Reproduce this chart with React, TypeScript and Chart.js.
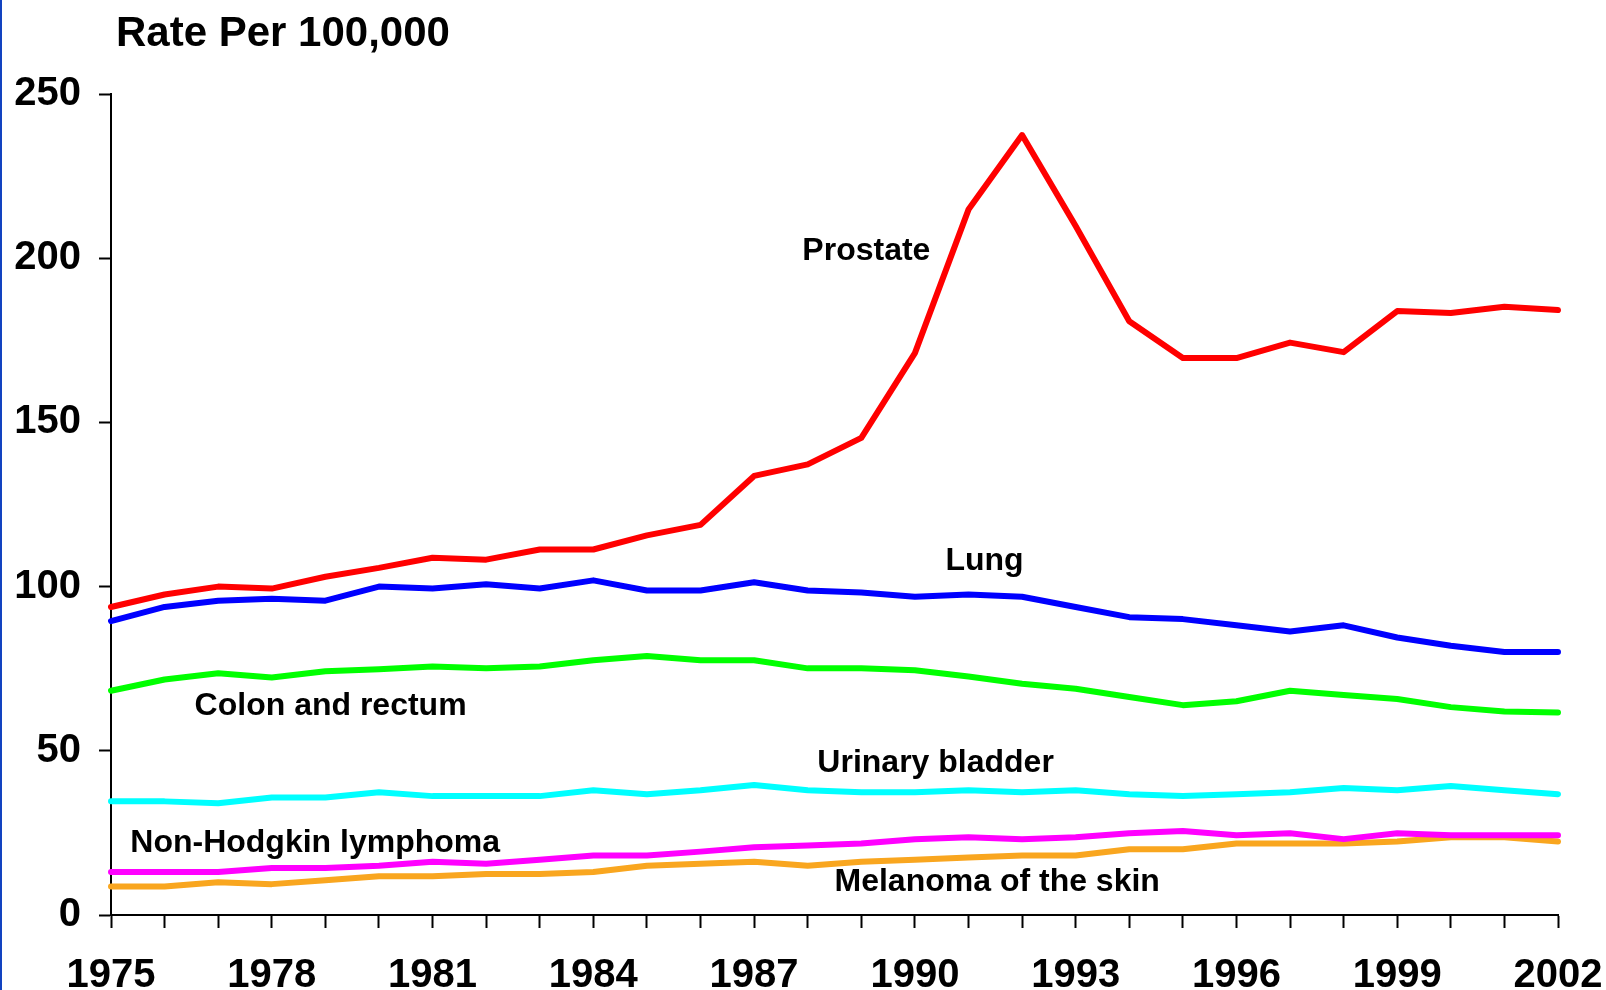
import React, { useEffect, useRef } from "react";
import { Chart, registerables } from "chart.js";

Chart.register(...registerables);

const years: string[] = [
  "1975", "1976", "1977", "1978", "1979", "1980", "1981", "1982", "1983", "1984",
  "1985", "1986", "1987", "1988", "1989", "1990", "1991", "1992", "1993", "1994",
  "1995", "1996", "1997", "1998", "1999", "2000", "2001", "2002",
];

const prostate: number[] = [
  93.8, 97.6, 100, 99.4, 103, 105.7, 108.8, 108.2, 111.3, 111.3,
  115.6, 118.8, 133.7, 137.2, 145.3, 171.1, 214.8, 237.5, 209.8, 180.8,
  169.6, 169.6, 174.3, 171.4, 183.9, 183.3, 185.2, 184.2,
];
const lung: number[] = [
  89.5, 93.8, 95.7, 96.3, 95.7, 100, 99.4, 100.7, 99.4, 101.9,
  98.8, 98.8, 101.3, 98.8, 98.2, 96.9, 97.6, 96.9, 93.8, 90.7,
  90.1, 88.2, 86.3, 88.2, 84.5, 82, 80.1, 80.1,
];
const colon: number[] = [
  68.3, 71.7, 73.6, 72.3, 74.2, 74.8, 75.7, 75.1, 75.7, 77.6,
  78.9, 77.6, 77.6, 75.1, 75.1, 74.5, 72.6, 70.4, 68.9, 66.4,
  63.9, 65.1, 68.3, 67, 65.8, 63.3, 62, 61.7,
];
const bladder: number[] = [
  34.6, 34.6, 34, 35.8, 35.8, 37.4, 36.2, 36.2, 36.2, 38,
  36.8, 38, 39.6, 38, 37.4, 37.4, 38, 37.4, 38, 36.8,
  36.2, 36.8, 37.4, 38.7, 38, 39.3, 38, 36.8,
];
const nhl: number[] = [
  13.1, 13.1, 13.1, 14.3, 14.3, 15, 16.2, 15.6, 16.8, 18.1,
  18.1, 19.3, 20.6, 21.2, 21.8, 23.1, 23.7, 23.1, 23.7, 24.9,
  25.6, 24.3, 24.9, 23.1, 24.9, 24.3, 24.3, 24.3,
];
const melanoma: number[] = [
  8.7, 8.7, 10, 9.4, 10.6, 11.8, 11.8, 12.5, 12.5, 13.1,
  15, 15.6, 16.2, 15, 16.2, 16.8, 17.5, 18.1, 18.1, 20,
  20, 21.8, 21.8, 21.8, 22.4, 23.7, 23.7, 22.4,
];

const seriesNames: string[] = [
  "Prostate", "Lung", "Colon and rectum", "Urinary bladder",
  "Non-Hodgkin lymphoma", "Melanoma of the skin",
];
const seriesColors: string[] = ["#ff0000", "#0000ff", "#00ff00", "#00ffff", "#ff00ff", "#f9a61f"];

// label anchors in data space: [category index, value]
const labelAnchors: [number, number][] = [
  [12.9, 202.0],
  [15.57, 107.7],
  [1.56, 63.6],
  [13.18, 46.2],
  [0.36, 21.9],
  [13.5, 10.1],
];

const FONT = "'Liberation Sans', Arial, Helvetica, sans-serif";

const labelPlugin = {
  id: "seriesLabels",
  afterDatasetsDraw(chart: any) {
    const { ctx, scales } = chart;
    ctx.save();
    ctx.font = `bold 32px ${FONT}`;
    ctx.fillStyle = "#000";
    ctx.textAlign = "left";
    ctx.textBaseline = "middle";
    seriesNames.forEach((name, i) => {
      const [xi, v] = labelAnchors[i];
      ctx.fillText(name, scales.x.getPixelForValue(xi), scales.y.getPixelForValue(v));
    });
    ctx.restore();
  },
};

const titlePlugin = {
  id: "axisTitle",
  afterDraw(chart: any) {
    const { ctx } = chart;
    ctx.save();
    ctx.font = `bold 42px ${FONT}`;
    ctx.fillStyle = "#000";
    ctx.textAlign = "left";
    ctx.textBaseline = "middle";
    ctx.fillText("Rate Per 100,000", 116, 34);
    ctx.restore();
  },
};

export default function App() {
  const ref = useRef<HTMLCanvasElement>(null);
  useEffect(() => {
    document.body.style.margin = "0";
    const seriesData = [prostate, lung, colon, bladder, nhl, melanoma];
    const chart = new Chart(ref.current as HTMLCanvasElement, {
      type: "line",
      data: {
        labels: years,
        datasets: seriesData.map((d, i) => ({
          label: seriesNames[i],
          data: d,
          borderColor: seriesColors[i],
          backgroundColor: seriesColors[i],
          borderWidth: 6,
          pointRadius: 0,
          tension: 0,
          fill: false,
          borderCapStyle: "round" as const,
          borderJoinStyle: "round" as const,
        })),
      },
      options: {
        animation: false,
        responsive: false,
        layout: { padding: { top: 94, right: 48, left: 0, bottom: 0 } },
        plugins: { legend: { display: false }, tooltip: { enabled: false } },
        scales: {
          x: {
            type: "category",
            offset: false,
            grid: {
              drawOnChartArea: false,
              drawTicks: true,
              tickLength: 13,
              tickColor: "#000",
              tickWidth: 2,
            },
            border: { display: true, color: "#000", width: 2 },
            ticks: {
              autoSkip: false,
              maxRotation: 0,
              padding: 24,
              color: "#000",
              font: { family: FONT, size: 40, weight: "bold" },
              callback: (_v: any, i: number) => (i % 3 === 0 ? years[i] : ""),
            },
            afterFit: (s: any) => {
              s.height = 75;
              s.paddingLeft = 0;
              s.paddingRight = 0;
            },
          },
          y: {
            min: 0,
            max: 250,
            grid: {
              drawOnChartArea: false,
              drawTicks: true,
              tickLength: 12,
              tickColor: "#000",
              tickWidth: 2,
            },
            border: { display: true, color: "#000", width: 2 },
            ticks: {
              stepSize: 50,
              padding: 18,
              color: "#000",
              font: { family: FONT, size: 40, weight: "bold" },
            },
            afterFit: (s: any) => {
              s.width = 111;
              s.paddingTop = 0;
              s.paddingBottom = 0;
            },
          },
        },
      },
      plugins: [labelPlugin, titlePlugin],
    });
    return () => chart.destroy();
  }, []);
  return (
    <div style={{ position: "absolute", left: 0, top: 0, width: 1606, height: 990, background: "#fff" }}>
      <canvas ref={ref} width={1606} height={990} style={{ display: "block" }} />
      <div style={{ position: "absolute", left: 0, top: 0, width: 2, height: 990, background: "#1243c0" }} />
    </div>
  );
}
